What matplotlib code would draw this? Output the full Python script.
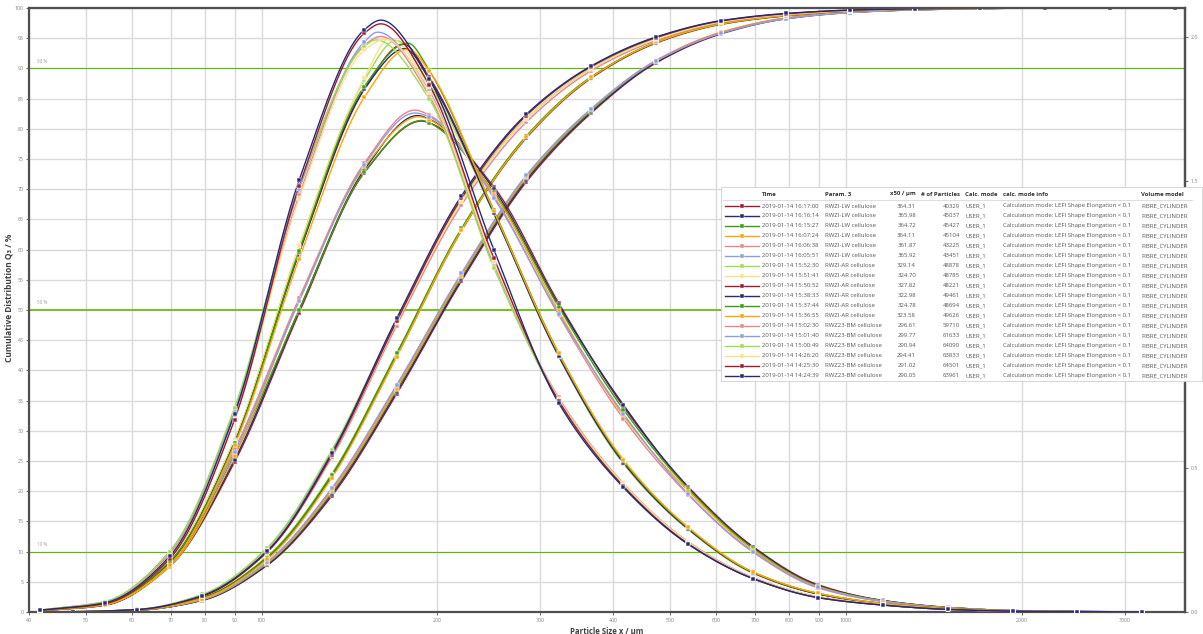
import numpy as np
import matplotlib
matplotlib.use("Agg")
import matplotlib.pyplot as plt
from matplotlib.patches import Rectangle
from matplotlib.ticker import FixedLocator, NullLocator

plt.rcParams['font.family'] = ['Open Sans', 'DejaVu Sans']

# ---------------- data ----------------
# class upper edges (cumulative Q3) and class centres (density q3)
QX = [36.8, 47.5, 61.3, 79.1, 102.2, 131.9, 170.3, 219.9, 283.9, 366.6, 473.2,
      611.0, 788.9, 1018, 1315, 1698, 2192, 2830, 3653]
DX = [41.8, 53.9, 69.6, 89.9, 116.0, 149.9, 193.5, 249.8, 322.4, 416.3, 537.6,
      693.8, 896.0, 1157, 1494, 1929, 2490, 3215]

# cumulative distribution Q3 / %  (legend order within each sample)
Q3_LW = [
    [0, 0.02, 0.28, 1.9, 7.7, 19.2, 36.1, 54.8, 71.2, 82.6, 90.9, 95.7, 98.2, 99.25, 99.7, 99.9, 100, 100, 100],
    [0, 0.02, 0.29, 1.95, 7.8, 19.5, 36.4, 55.1, 71.5, 82.8, 91.0, 95.8, 98.25, 99.3, 99.7, 99.9, 100, 100, 100],
    [0, 0.02, 0.30, 2.0, 8.0, 19.8, 36.8, 55.5, 71.8, 83.0, 91.2, 95.9, 98.3, 99.3, 99.7, 99.9, 100, 100, 100],
    [0, 0.02, 0.31, 2.05, 8.1, 20.0, 37.0, 55.7, 72.0, 83.2, 91.3, 96.0, 98.35, 99.3, 99.72, 99.9, 100, 100, 100],
    [0, 0.02, 0.32, 2.1, 8.2, 20.3, 37.4, 56.0, 72.2, 83.3, 91.3, 95.9, 98.3, 99.3, 99.7, 99.9, 100, 100, 100],
    [0, 0.02, 0.32, 2.1, 8.3, 20.5, 37.6, 56.1, 72.3, 83.3, 91.2, 95.8, 98.2, 99.25, 99.68, 99.9, 100, 100, 100],
]
Q3_AR = [
    [0, 0.03, 0.36, 2.4, 9.2, 22.9, 42.8, 63.4, 78.6, 88.4, 94.2, 97.3, 98.7, 99.5, 99.8, 99.95, 100, 100, 100],
    [0, 0.03, 0.35, 2.2, 8.8, 22.3, 42.2, 63.0, 78.4, 88.3, 94.1, 97.2, 98.7, 99.45, 99.8, 99.93, 100, 100, 100],
    [0, 0.03, 0.35, 2.3, 9.0, 22.6, 42.6, 63.3, 78.6, 88.5, 94.3, 97.35, 98.75, 99.5, 99.82, 99.95, 100, 100, 100],
    [0, 0.03, 0.34, 2.3, 8.9, 22.5, 42.4, 63.2, 78.5, 88.4, 94.2, 97.3, 98.7, 99.5, 99.8, 99.95, 100, 100, 100],
    [0, 0.03, 0.35, 2.3, 9.0, 22.7, 42.8, 63.5, 78.8, 88.6, 94.3, 97.4, 98.75, 99.5, 99.82, 99.95, 100, 100, 100],
    [0, 0.03, 0.34, 2.2, 8.7, 22.2, 42.3, 63.2, 78.6, 88.5, 94.3, 97.35, 98.75, 99.5, 99.82, 99.95, 100, 100, 100],
]
Q3_BM = [
    [0, 0.05, 0.40, 2.6, 10.0, 25.6, 47.4, 67.4, 81.1, 89.6, 94.6, 97.6, 98.9, 99.55, 99.8, 99.95, 100, 100, 100],
    [0, 0.05, 0.42, 2.8, 10.5, 26.6, 48.2, 68.0, 81.6, 89.9, 94.8, 97.7, 98.95, 99.6, 99.85, 99.95, 100, 100, 100],
    [0, 0.06, 0.45, 2.9, 10.6, 26.8, 48.4, 68.2, 81.7, 90.0, 94.9, 97.75, 99.0, 99.6, 99.85, 99.95, 100, 100, 100],
    [0, 0.05, 0.40, 2.7, 10.2, 26.0, 47.9, 67.9, 81.6, 89.9, 94.8, 97.7, 98.95, 99.6, 99.85, 99.95, 100, 100, 100],
    [0, 0.05, 0.40, 2.6, 9.9, 26.0, 48.1, 68.5, 82.2, 90.3, 95.1, 97.85, 99.05, 99.65, 99.87, 99.96, 100, 100, 100],
    [0, 0.05, 0.40, 2.7, 10.1, 26.3, 48.6, 68.9, 82.4, 90.4, 95.2, 97.9, 99.1, 99.65, 99.87, 99.96, 100, 100, 100],
]

# density distribution q3 (right axis)
DEN_LW = [
    [0.004, 0.023, 0.158, 0.521, 1.040, 1.527, 1.701, 1.478, 1.075, 0.714, 0.435, 0.227, 0.095, 0.040, 0.016, 0.005, 0.002, 0.000],
    [0.004, 0.024, 0.160, 0.529, 1.050, 1.537, 1.714, 1.470, 1.067, 0.720, 0.431, 0.225, 0.092, 0.040, 0.016, 0.005, 0.002, 0.000],
    [0.004, 0.025, 0.162, 0.546, 1.050, 1.529, 1.701, 1.460, 1.061, 0.704, 0.428, 0.221, 0.090, 0.039, 0.015, 0.005, 0.001, 0.000],
    [0.004, 0.025, 0.158, 0.542, 1.082, 1.546, 1.712, 1.455, 1.046, 0.683, 0.420, 0.216, 0.088, 0.038, 0.015, 0.005, 0.001, 0.000],
    [0.005, 0.027, 0.168, 0.565, 1.092, 1.560, 1.728, 1.445, 1.033, 0.672, 0.407, 0.208, 0.084, 0.036, 0.014, 0.005, 0.001, 0.000],
    [0.005, 0.027, 0.170, 0.557, 1.082, 1.554, 1.722, 1.439, 1.037, 0.689, 0.410, 0.210, 0.086, 0.037, 0.014, 0.005, 0.001, 0.000],
]
DEN_AR = [
    [0.006, 0.029, 0.181, 0.599, 1.271, 1.848, 1.838, 1.386, 0.888, 0.515, 0.286, 0.134, 0.063, 0.029, 0.012, 0.004, 0.001, 0.000],
    [0.006, 0.029, 0.179, 0.596, 1.271, 1.856, 1.823, 1.390, 0.893, 0.517, 0.288, 0.137, 0.063, 0.029, 0.012, 0.004, 0.001, 0.000],
    [0.005, 0.027, 0.174, 0.588, 1.250, 1.817, 1.861, 1.392, 0.895, 0.521, 0.290, 0.137, 0.063, 0.029, 0.012, 0.004, 0.001, 0.000],
    [0.005, 0.027, 0.172, 0.588, 1.250, 1.817, 1.854, 1.386, 0.890, 0.519, 0.288, 0.137, 0.063, 0.029, 0.012, 0.004, 0.001, 0.000],
    [0.005, 0.027, 0.174, 0.586, 1.256, 1.827, 1.884, 1.397, 0.901, 0.525, 0.292, 0.139, 0.065, 0.030, 0.012, 0.004, 0.001, 0.000],
    [0.005, 0.025, 0.164, 0.580, 1.229, 1.789, 1.882, 1.394, 0.899, 0.529, 0.294, 0.139, 0.065, 0.030, 0.012, 0.004, 0.001, 0.000],
]
DEN_BM = [
    [0.006, 0.034, 0.202, 0.683, 1.449, 1.970, 1.796, 1.208, 0.746, 0.447, 0.244, 0.120, 0.053, 0.025, 0.009, 0.003, 0.001, 0.000],
    [0.007, 0.036, 0.210, 0.699, 1.470, 1.982, 1.812, 1.214, 0.739, 0.445, 0.242, 0.118, 0.053, 0.025, 0.009, 0.003, 0.001, 0.000],
    [0.007, 0.036, 0.208, 0.710, 1.481, 1.966, 1.785, 1.197, 0.735, 0.441, 0.239, 0.118, 0.053, 0.025, 0.009, 0.003, 0.001, 0.000],
    [0.006, 0.032, 0.195, 0.672, 1.439, 1.953, 1.806, 1.218, 0.741, 0.445, 0.242, 0.118, 0.053, 0.025, 0.009, 0.003, 0.001, 0.000],
    [0.006, 0.029, 0.185, 0.668, 1.481, 2.012, 1.833, 1.231, 0.735, 0.437, 0.237, 0.116, 0.050, 0.024, 0.009, 0.003, 0.001, 0.000],
    [0.006, 0.032, 0.193, 0.689, 1.502, 2.024, 1.854, 1.260, 0.727, 0.433, 0.235, 0.116, 0.050, 0.024, 0.009, 0.003, 0.001, 0.000],
]
# density maxima read between the marked points (line passes through, no marker)
PEAK_X_LW = [188, 185, 188, 186, 183, 183]
PEAK_Y_LW = [1.707, 1.726, 1.709, 1.722, 1.745, 1.735]
PEAK_X_AR = [170, 166, 175, 176, 178, 178]
PEAK_Y_AR = [1.987, 1.995, 1.974, 1.959, 1.978, 1.957]
PEAK_X_BM = [160, 158, 157, 163, 160, 160]
PEAK_Y_BM = [2.001, 2.016, 1.989, 1.991, 2.045, 2.058]

TIMES = ["2019-01-14 16:17:00", "2019-01-14 16:16:14", "2019-01-14 16:15:27",
         "2019-01-14 16:07:24", "2019-01-14 16:06:38", "2019-01-14 16:05:51",
         "2019-01-14 15:52:30", "2019-01-14 15:51:41", "2019-01-14 15:50:52",
         "2019-01-14 15:38:33", "2019-01-14 15:37:44", "2019-01-14 15:36:55",
         "2019-01-14 15:02:30", "2019-01-14 15:01:40", "2019-01-14 15:00:49",
         "2019-01-14 14:26:20", "2019-01-14 14:25:30", "2019-01-14 14:24:39"]
PARAMS = ["RWZI-LW cellulose"] * 6 + ["RWZI-AR cellulose"] * 6 + ["RWZ23-BM cellulose"] * 6
X50 = ["364.31", "365.98", "364.72", "364.11", "361.87", "365.92",
       "329.14", "324.70", "327.82", "322.98", "324.78", "323.58",
       "296.61", "299.77", "290.94", "294.41", "291.02", "290.05"]
NPART = ["40329", "45037", "45427", "45104", "43225", "43451",
         "48878", "48785", "48221", "49461", "48694", "49626",
         "59710", "61633", "64090", "63833", "64501", "63961"]
CALC_MODE = "USER_1"
CALC_INFO = "Calculation mode: LEFI Shape Elongation < 0.1"
VOL_MODEL = "FIBRE_CYLINDER"

XTICKS = [40, 50, 60, 70, 80, 90, 100, 200, 300, 400, 500, 600, 700, 800, 900,
          1000, 2000, 3000]
YTICKS = list(range(0, 101, 5))
RTICKS = [0.0, 0.5, 1.0, 1.5, 2.0]
REF_LINES = [10, 50, 90]

DR, NV, GR, OR = '#9B1B30', '#262B78', '#3E9E0E', '#FFA500'
PK, LB, LG, LY = '#E8848C', '#8F9EE0', '#9CDC52', '#FFE08A'
COL_LW = [DR, NV, GR, OR, PK, LB]
COL_AR = [LG, LY, DR, NV, GR, OR]
COL_BM = [PK, LB, LG, LY, DR, NV]


def pchip(xs, ys, n=500):
    lx = np.log10(np.asarray(xs, float))
    y = np.asarray(ys, float)
    h = np.diff(lx)
    d = np.diff(y) / h
    m = np.zeros_like(y)
    m[0], m[-1] = d[0], d[-1]
    for k in range(1, len(y) - 1):
        if d[k - 1] * d[k] > 0:
            w1 = 2 * h[k] + h[k - 1]
            w2 = h[k] + 2 * h[k - 1]
            m[k] = (w1 + w2) / (w1 / d[k - 1] + w2 / d[k])
    xn = np.linspace(lx[0], lx[-1], n)
    i = np.clip(np.searchsorted(lx, xn) - 1, 0, len(lx) - 2)
    t = (xn - lx[i]) / h[i]
    h00 = 2 * t**3 - 3 * t**2 + 1
    h10 = t**3 - 2 * t**2 + t
    h01 = -2 * t**3 + 3 * t**2
    h11 = t**3 - t**2
    yn = h00 * y[i] + h10 * h[i] * m[i] + h01 * y[i + 1] + h11 * h[i] * m[i + 1]
    return 10**xn, yn


W, H = 1203, 634
fig = plt.figure(figsize=(W / 100, H / 100), dpi=100)
L, R, T, B = 29, 1185, 8, 612
ax = fig.add_axes([L / W, 1 - B / H, (R - L) / W, (B - T) / H])
ax.set_xscale('log')
ax.set_xlim(40, 3806)
ax.set_ylim(0, 100)
ax.xaxis.set_major_locator(FixedLocator(XTICKS))
ax.xaxis.set_minor_locator(NullLocator())
ax.set_xticklabels([str(v) for v in XTICKS])
ax.set_yticks(YTICKS)
ax.grid(True, color='#dadada', lw=1.0)
ax.set_axisbelow(True)
for s in ax.spines.values():
    s.set_color('#505050')
    s.set_linewidth(1.6)
ax.tick_params(axis='both', labelsize=3.8, labelcolor='#808080', color='#505050',
               length=2, width=0.6, pad=2)

ax2 = ax.twinx()
ax2.set_ylim(0, 2.1)
ax2.set_yticks(RTICKS)
ax2.set_yticklabels([f"{v:.1f}" for v in RTICKS])
for k, s in ax2.spines.items():
    s.set_visible(k == 'right')
    s.set_color('#505050')
    s.set_linewidth(1.6)
ax2.tick_params(axis='y', labelsize=3.8, labelcolor='#808080', color='#505050',
                length=2, width=0.6, pad=2)

for v in REF_LINES:
    ax.axhline(v, color='#62BA00', lw=1.2 if v == 50 else 0.8, zorder=1.5)
    ax.text(41.2, v + 0.8, f"{v} %", fontsize=3.3, color='#a0a0a0', va='bottom',
            ha='left')

groups = [(Q3_LW, DEN_LW, PEAK_X_LW, PEAK_Y_LW, COL_LW),
          (Q3_AR, DEN_AR, PEAK_X_AR, PEAK_Y_AR, COL_AR),
          (Q3_BM, DEN_BM, PEAK_X_BM, PEAK_Y_BM, COL_BM)]

mk = dict(ls='none', marker='s', ms=3.0, mec='white', mew=0.35)
for q3s, dens, pxs, pys, cols in groups:
    for q, dv, px, py, c in zip(q3s, dens, pxs, pys, cols):
        xs, ys = pchip(QX, q)
        ax.plot(xs, ys, color=c, lw=1.0, zorder=2)
        ax.plot(QX, q, color=c, mfc=c, zorder=2.1, **mk)
        xx = list(DX) + [px]
        yy = list(dv) + [py]
        order = np.argsort(xx)
        xs, ys = pchip(np.asarray(xx)[order], np.asarray(yy)[order])
        ax2.plot(xs, ys, color=c, lw=1.0, zorder=2)
        ax2.plot(DX, dv, color=c, mfc=c, zorder=2.1, **mk)

ax.set_xlabel("Particle Size x / µm", fontsize=5.6, fontweight='bold',
              color='#404040', labelpad=3)
ax.set_ylabel("Cumulative Distribution Q\u2083 / %", fontsize=6.0,
              fontweight='bold', color='#404040')
ax.yaxis.set_label_coords(-0.013, 0.52)

# ---------------- legend table (pixel coordinates) ----------------
lax = fig.add_axes([0, 0, 1, 1])
lax.set_xlim(0, W)
lax.set_ylim(H, 0)
lax.axis('off')
lax.set_zorder(10)
lax.add_patch(Rectangle((721, 187), 481, 194, facecolor='white',
                        edgecolor='#d0d0d0', lw=0.6))
hdr = dict(fontsize=4.3, fontweight='bold', color='#333333', va='center')
txt = dict(fontsize=4.3, color='#555555', va='center')
hy = 194
lax.text(762, hy, "Time", ha='left', **hdr)
lax.text(825, hy, "Param. 3", ha='left', **hdr)
lax.text(916, hy, "x50 / µm", ha='right', **hdr)
lax.text(960, hy, "# of Particles", ha='right', **hdr)
lax.text(965, hy, "Calc. mode", ha='left', **hdr)
lax.text(1003, hy, "calc. mode info", ha='left', **hdr)
lax.text(1141, hy, "Volume model", ha='left', **hdr)
lax.plot([723, 1192], [200, 200], color='#d8d8d8', lw=0.6)
all_cols = COL_LW + COL_AR + COL_BM
for i in range(18):
    y = 206 + 9.98 * i
    c = all_cols[i]
    lax.plot([725, 759], [y, y], color=c, lw=1.0)
    lax.plot([742], [y], marker='s', ms=2.4, color=c, mec='white', mew=0.3)
    lax.text(762, y, TIMES[i], ha='left', **txt)
    lax.text(825, y, PARAMS[i], ha='left', **txt)
    lax.text(916, y, X50[i], ha='right', **txt)
    lax.text(960, y, NPART[i], ha='right', **txt)
    lax.text(965, y, CALC_MODE, ha='left', **txt)
    lax.text(1003, y, CALC_INFO, ha='left', **txt)
    lax.text(1141, y, VOL_MODEL, ha='left', **txt)

fig.savefig("out.png", dpi=100, facecolor='white')
